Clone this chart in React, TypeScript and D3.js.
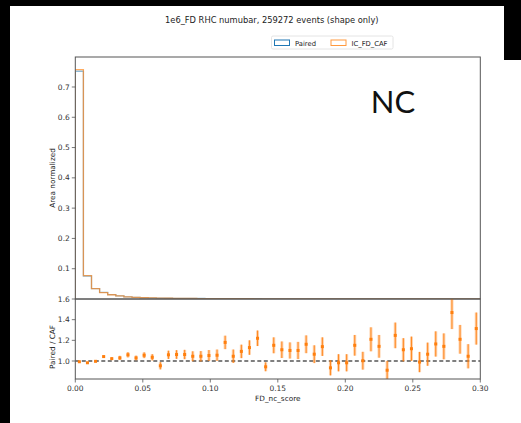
import React from "react";
import * as d3 from "d3";

const binEdgesStart = 0;
const binWidth = 0.006;
const nBins = 50;

const cafHist = [0.757, 0.077, 0.034, 0.021, 0.014, 0.010, 0.0068, 0.0052, 0.0042, 0.0035,
  0.0029, 0.0025, 0.0022, 0.0019, 0.0017, 0.0015, 0.0013, 0.0012, 0.0011, 0.001,
  0.0009, 0.0008, 0.0007, 0.0007, 0.0006, 0.0006, 0.0005, 0.0005, 0.0005, 0.0004,
  0.0004, 0.0004, 0.0003, 0.0003, 0.0003, 0.0003, 0.0003, 0.0002, 0.0002, 0.0002,
  0.0002, 0.0002, 0.0002, 0.0002, 0.0001, 0.0001, 0.0001, 0.0001, 0.0001, 0.0001];

const pairedHist = [0.752, 0.076, 0.034, 0.022, 0.0143, 0.0103, 0.0071, 0.0054, 0.0044, 0.0036,
  0.0028, 0.0027, 0.0023, 0.002, 0.0018, 0.0016, 0.0014, 0.0013, 0.0013, 0.001,
  0.001, 0.0009, 0.0008, 0.0007, 0.0007, 0.0007, 0.0006, 0.0006, 0.0006, 0.0004,
  0.0005, 0.0004, 0.0003, 0.0003, 0.0003, 0.0003, 0.0003, 0.0002, 0.0002, 0.0002,
  0.0002, 0.0002, 0.0002, 0.0002, 0.0001, 0.0001, 0.0001, 0.0001, 0.0001, 0.0001];

const ratio = [0.993, 0.983, 0.997, 1.043, 1.023, 1.03, 1.06, 1.03, 1.056, 1.036,
  0.954, 1.06, 1.063, 1.063, 1.046, 1.046, 1.053, 1.056, 1.18, 1.046,
  1.093, 1.13, 1.22, 0.944, 1.152, 1.109, 1.102, 1.102, 1.162, 1.066,
  1.139, 0.934, 0.983, 0.983, 1.152, 1.003, 1.21, 1.142, 0.911, 1.248,
  1.109, 1.119, 0.99, 1.066, 1.165, 1.142, 1.469, 1.21, 1.046, 1.314];

const ratioErr = [0.005, 0.005, 0.005, 0.008, 0.01, 0.02, 0.025, 0.022, 0.028, 0.03,
  0.035, 0.04, 0.042, 0.045, 0.048, 0.05, 0.053, 0.055, 0.065, 0.065,
  0.065, 0.07, 0.075, 0.043, 0.077, 0.08, 0.078, 0.083, 0.086, 0.086,
  0.09, 0.073, 0.083, 0.083, 0.1, 0.086, 0.116, 0.11, 0.09, 0.124,
  0.112, 0.117, 0.098, 0.112, 0.122, 0.125, 0.16, 0.139, 0.117, 0.155];

const xTicks = [0.0, 0.05, 0.1, 0.15, 0.2, 0.25, 0.3];
const topYTicks = [0.1, 0.2, 0.3, 0.4, 0.5, 0.6, 0.7];
const botYTicks = [1.0, 1.2, 1.4, 1.6];

const titleText = "1e6_FD RHC numubar, 259272 events (shape only)";
const seriesNames = ["Paired", "IC_FD_CAF"];
const BLUE = "#1f77b4";
const ORANGE = "#ff7f0e";

export default function App() {
  const W = 521, H = 423;
  const L = 75.3, R = 480.3;
  const topT = 57, topB = 299, botB = 379;
  const x = d3.scaleLinear().domain([0, 0.3]).range([L, R]);
  const yTop = d3.scaleLinear().domain([0, 0.799]).range([topB, topT]);
  const yBot = d3.scaleLinear().domain([0.826, 1.6]).range([botB, topB]);

  const stepPath = (vals: number[]) => {
    const pts: [number, number][] = [[binEdgesStart, 0]];
    vals.forEach((v, i) => pts.push([binEdgesStart + i * binWidth, v]));
    pts.push([binEdgesStart + vals.length * binWidth, vals[vals.length - 1]]);
    pts.push([binEdgesStart + vals.length * binWidth, 0]);
    return d3.line<[number, number]>()
      .x((d) => x(d[0]))
      .y((d) => yTop(d[1]))
      .curve(d3.curveStepAfter)(pts) as string;
  };

  const centers = d3.range(nBins).map((i) => binEdgesStart + (i + 0.5) * binWidth);
  const fmt2 = d3.format(".2f");
  const fmt1 = d3.format(".1f");
  const font = "DejaVu Sans, sans-serif";
  const tickColor = "#333";

  return (
    <svg width={W} height={H} style={{ position: "absolute", left: 0, top: 0, background: "#fff" }}
      fontFamily={font}>
      <defs>
        <clipPath id="clipTop"><rect x={L} y={topT} width={R - L} height={topB - topT} /></clipPath>
        <clipPath id="clipBot"><rect x={L} y={topB} width={R - L} height={botB - topB} /></clipPath>
      </defs>
      <rect x={0} y={0} width={W} height={H} fill="#fff" />
      <rect x={0} y={0} width={W} height={6} fill="#000" />
      <rect x={0} y={0} width={10} height={H} fill="#000" />
      <rect x={504} y={0} width={W - 504} height={60} fill="#000" />

      <text x={(L + R) / 2 - 6} y={23} fontSize={8.3} textAnchor="middle" fill="#222">{titleText}</text>

      {/* legend */}
      <rect x={271.5} y={36} width={121.5} height={13} fill="#fff" stroke="#ddd" strokeWidth={0.8} rx={1.5} />
      <rect x={274.5} y={40} width={15} height={5.5} fill="none" stroke={BLUE} strokeWidth={1} />
      <text x={295} y={45.5} fontSize={6.8} fill="#222">{seriesNames[0]}</text>
      <rect x={331} y={40} width={15} height={5.5} fill="none" stroke={ORANGE} strokeOpacity={0.8} strokeWidth={1} />
      <text x={351.5} y={45.5} fontSize={6.8} fill="#222">{seriesNames[1]}</text>

      {/* top histograms */}
      <g clipPath="url(#clipTop)">
        <path d={stepPath(pairedHist)} fill="none" stroke={BLUE} strokeOpacity={0.5} strokeWidth={1.3} />
        <path d={stepPath(cafHist)} fill="none" stroke={ORANGE} strokeOpacity={0.65} strokeWidth={1.3} />
      </g>

      <text x={393} y={113} fontSize={31} fontFamily="Lato, sans-serif" fontWeight={400} textAnchor="middle" fill="#111">NC</text>

      {/* top frame */}
      <rect x={L} y={topT} width={R - L} height={topB - topT} fill="none" stroke="#555" strokeWidth={1} />
      {topYTicks.map((t) => (
        <g key={"ty" + t}>
          <line x1={L} x2={L - 3.5} y1={yTop(t)} y2={yTop(t)} stroke="#555" strokeWidth={0.8} />
          <text x={L - 5.5} y={yTop(t) + 2.6} fontSize={7.5} textAnchor="end" fill={tickColor}>{fmt1(t)}</text>
        </g>
      ))}
      <text transform={`translate(55,178) rotate(-90)`} fontSize={7.3} textAnchor="middle" fill="#222">Area normalized</text>

      {/* bottom panel */}
      <g clipPath="url(#clipBot)">
        <line x1={L} x2={R} y1={yBot(1)} y2={yBot(1)} stroke="#000" strokeWidth={1.1} strokeDasharray="4,2.5" />
        {centers.map((c, i) => (
          <g key={"pt" + i}>
            <rect x={x(c) - 1.5} y={yBot(ratio[i] + ratioErr[i])} width={3}
              height={Math.max(0, yBot(ratio[i] - ratioErr[i]) - yBot(ratio[i] + ratioErr[i]))}
              fill={ORANGE} fillOpacity={0.35} />
            <line x1={x(c)} x2={x(c)} y1={yBot(ratio[i] + ratioErr[i])} y2={yBot(ratio[i] - ratioErr[i])}
              stroke={ORANGE} strokeWidth={0.9} />
            <rect x={x(c) - 1.5} y={yBot(ratio[i]) - 1.5} width={3} height={3} fill={ORANGE} />
          </g>
        ))}
      </g>
      <rect x={L} y={topB} width={R - L} height={botB - topB} fill="none" stroke="#555" strokeWidth={1} />
      {botYTicks.map((t) => (
        <g key={"by" + t}>
          <line x1={L} x2={L - 3.5} y1={yBot(t)} y2={yBot(t)} stroke="#555" strokeWidth={0.8} />
          <text x={L - 5.5} y={yBot(t) + 2.6} fontSize={7.5} textAnchor="end" fill={tickColor}>{fmt1(t)}</text>
        </g>
      ))}
      {xTicks.map((t) => (
        <g key={"x" + t}>
          <line x1={x(t)} x2={x(t)} y1={botB} y2={botB + 3.5} stroke="#555" strokeWidth={0.8} />
          <text x={x(t)} y={391} fontSize={7.5} textAnchor="middle" fill={tickColor}>{fmt2(t)}</text>
        </g>
      ))}
      <text transform={`translate(55,347) rotate(-90)`} fontSize={7.3} textAnchor="middle" fill="#222">Paired / CAF</text>
      <text x={(L + R) / 2} y={401} fontSize={7.3} textAnchor="middle" fill="#222">FD_nc_score</text>
    </svg>
  );
}
